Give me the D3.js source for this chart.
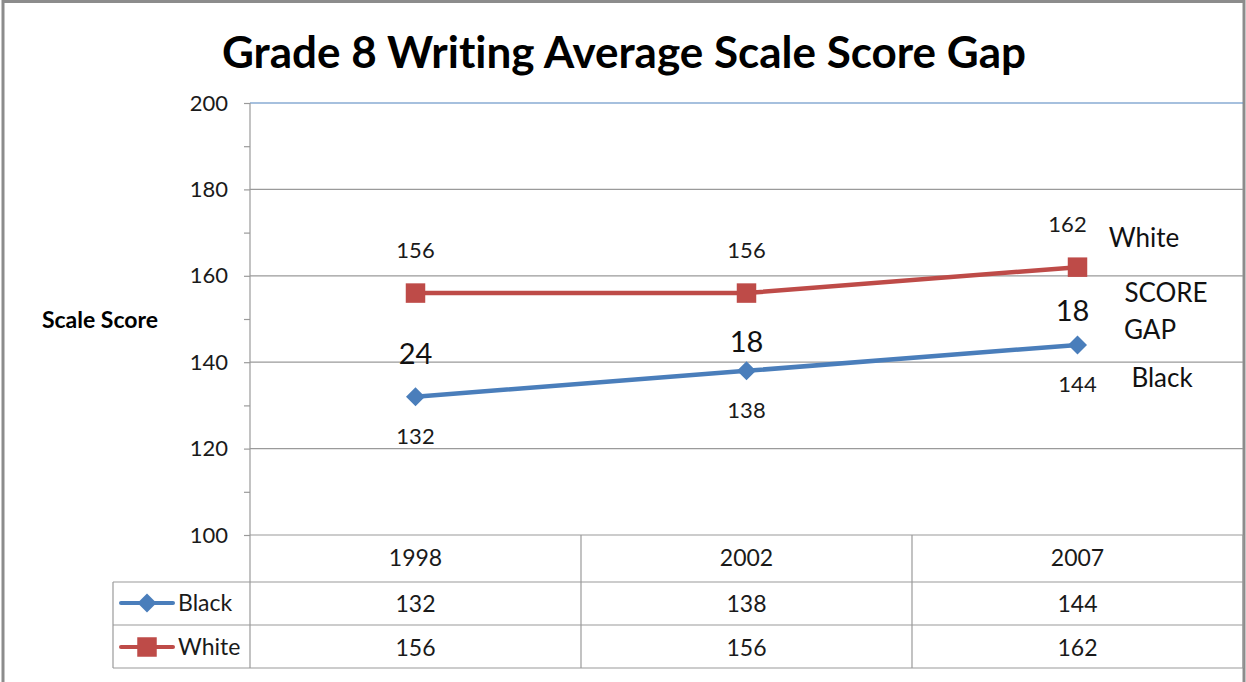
<!DOCTYPE html>
<html><head><meta charset="utf-8">
<script src="https://cdn.jsdelivr.net/npm/d3@7"></script>
<style>body{margin:0;background:#fff}svg{display:block}text{font-family:Lato,"Open Sans",sans-serif;font-variant-ligatures:none;font-feature-settings:"liga" 0}</style>
</head><body>
<svg id="c" width="1246" height="682"></svg>
<script>
const years = ["1998","2002","2007"];
const black = [132,138,144];
const white = [156,156,162];
const gaps = [24,18,18];
const yTicks = [100,120,140,160,180,200];
const title = "Grade 8 Writing Average Scale Score Gap";
const yLabel = "Scale Score";

const svg = d3.select("#c");
const L = 250, R = 1243, T = 103, B = 535;
const y = d3.scaleLinear().domain([100,200]).range([B,T]);
const x = d3.scaleBand().domain(years).range([L,R]);
const cx = d => x(d) + x.bandwidth()/2;
const blue = "#4a7ebb", red = "#be4b48", grid = "#9a9a9a";

// outer frame
svg.append("rect").attr("x",3).attr("y",1.5).attr("width",1241).attr("height",690)
  .attr("fill","none").attr("stroke","#8c8c8c").attr("stroke-width",3);

svg.append("text").attr("x",624).attr("y",68).attr("text-anchor","middle")
  .attr("font-size",44).attr("font-weight","bold").attr("fill","#000").text(title);

// gridlines
svg.append("g").selectAll("line").data(yTicks.filter(v=>v>100)).join("line")
  .attr("x1",L).attr("x2",R).attr("y1",d=>y(d)).attr("y2",d=>y(d))
  .attr("stroke",d=>d===200?"#4f81bd":grid).attr("stroke-width",1.2);

// axis
const ax = svg.append("g").attr("transform",`translate(${L},0)`)
  .call(d3.axisLeft(y).tickValues(d3.range(100,201,10)).tickSize(6).tickFormat(d=>d%20===0?d:""));
ax.select(".domain").remove();
ax.selectAll(".tick line").attr("stroke",grid).attr("stroke-width",1.2);
ax.selectAll(".tick text").attr("font-size",22).attr("fill","#1a1a1a").attr("x",-22)
  .attr("font-family","Lato,sans-serif");
svg.append("line").attr("x1",L).attr("x2",L).attr("y1",T).attr("y2",668).attr("stroke",grid).attr("stroke-width",1.2);

svg.append("text").attr("x",100).attr("y",328).attr("text-anchor","middle")
  .attr("font-size",23).attr("font-weight","bold").text(yLabel);

// data table
const rowsY = [B,582,625,668];
rowsY.forEach((ry,i)=>{
  svg.append("line").attr("x1",i===0?L:113).attr("x2",R).attr("y1",ry).attr("y2",ry)
    .attr("stroke",grid).attr("stroke-width",1.2);
});
years.forEach(yr=>{
  svg.append("line").attr("x1",x(yr)+x.bandwidth()).attr("x2",x(yr)+x.bandwidth())
    .attr("y1",B).attr("y2",668).attr("stroke",grid).attr("stroke-width",1.2);
});
svg.append("line").attr("x1",113).attr("x2",113).attr("y1",582).attr("y2",668).attr("stroke",grid).attr("stroke-width",1.2);

svg.append("g").selectAll("text").data(years).join("text")
  .attr("x",cx).attr("y",566).attr("text-anchor","middle").attr("font-size",23).attr("fill","#1a1a1a").text(d=>d);
svg.append("g").selectAll("text").data(black).join("text")
  .attr("x",(d,i)=>cx(years[i])).attr("y",612).attr("text-anchor","middle").attr("font-size",23).attr("fill","#1a1a1a").text(d=>d);
svg.append("g").selectAll("text").data(white).join("text")
  .attr("x",(d,i)=>cx(years[i])).attr("y",656).attr("text-anchor","middle").attr("font-size",23).attr("fill","#1a1a1a").text(d=>d);

const diamond = d3.symbol().type(d3.symbolDiamond2).size(230);
const square = d3.symbol().type(d3.symbolSquare).size(380);

// legend in table
[[603,blue,diamond,"Black"],[647,red,square,"White"]].forEach(([ly,col,sym,lab])=>{
  svg.append("line").attr("x1",121).attr("x2",173).attr("y1",ly).attr("y2",ly).attr("stroke",col).attr("stroke-width",4).attr("stroke-linecap","round");
  svg.append("path").attr("d",sym).attr("transform",`translate(147,${ly})`).attr("fill",col);
  svg.append("text").attr("x",178).attr("y",ly+8).attr("font-size",23).attr("fill","#1a1a1a").text(lab);
});

// lines
const line = d3.line().x((d,i)=>cx(years[i])).y(d=>y(d));
svg.append("path").datum(white).attr("d",line).attr("fill","none").attr("stroke",red).attr("stroke-width",4.5);
svg.append("path").datum(black).attr("d",line).attr("fill","none").attr("stroke",blue).attr("stroke-width",4.5);
svg.append("g").selectAll("path").data(white).join("path").attr("d",square)
  .attr("transform",(d,i)=>`translate(${cx(years[i])},${y(d)})`).attr("fill",red);
svg.append("g").selectAll("path").data(black).join("path").attr("d",diamond)
  .attr("transform",(d,i)=>`translate(${cx(years[i])},${y(d)})`).attr("fill",blue);

// data labels
svg.append("g").selectAll("text").data(white).join("text")
  .attr("x",(d,i)=>cx(years[i])-(i===2?10:0)).attr("y",d=>y(d)-35).attr("text-anchor","middle").attr("font-size",22).attr("fill","#1a1a1a").text(d=>d);
svg.append("g").selectAll("text").data(black).join("text")
  .attr("x",(d,i)=>cx(years[i])).attr("y",d=>y(d)+47).attr("text-anchor","middle").attr("font-size",22).attr("fill","#1a1a1a").text(d=>d);
// gap labels
const gapY = [364,352,321];
svg.append("g").selectAll("text").data(gaps).join("text")
  .attr("x",(d,i)=>cx(years[i])-(i===2?5:0)).attr("y",(d,i)=>gapY[i]).attr("text-anchor","middle").attr("font-size",29).attr("fill","#111").text(d=>d);

// annotations
[["White",1144,247],["SCORE",1166,302],["GAP",1150,339],["Black",1162,387]].forEach(([t,ax_,ay])=>{
  svg.append("text").attr("x",ax_).attr("y",ay).attr("text-anchor","middle").attr("font-size",26).attr("fill","#111").text(t);
});
</script>
</body></html>
